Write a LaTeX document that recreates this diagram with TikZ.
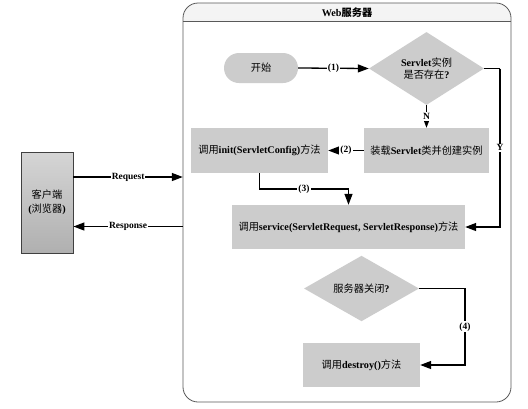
\documentclass[tikz,border=0pt]{standalone}
\usepackage{fontspec}
\setmainfont{Liberation Serif}
\newfontfamily\cjkfont{Noto Sans CJK SC}
\newcommand\zhtxt[1]{{\cjkfont\mdseries #1}}
\usetikzlibrary{arrows.meta,shapes.geometric,calc}
\tikzset{
  box/.style={fill=gray!40, draw=none, inner sep=0pt, font=\fontsize{10.2}{12.5}\selectfont\bfseries, align=center},
  dia/.style={diamond, fill=gray!40, draw=none, inner sep=0pt, font=\fontsize{10.2}{12.5}\selectfont\bfseries, align=center},
  arr/.style={-{Triangle[length=11pt,width=8pt]}, line width=1.3pt},
  ln/.style={line width=1.3pt},
  lbl/.style={fill=white, inner sep=1pt, font=\fontsize{9.5}{10}\selectfont\bfseries}
}
\begin{document}
\begin{tikzpicture}[x=1pt,y=-1pt]
\fill[white] (0,0) rectangle (528,408);
\useasboundingbox (0,0) rectangle (528,408);
% container
\node[draw=none, minimum width=328pt, minimum height=399pt, inner sep=0pt] (web) at (347,202.5) {};
\begin{scope}
  \clip (183,2) rectangle (511,21);
  \shade[top color=gray!8, bottom color=gray!35, rounded corners=15pt] (183,3) rectangle (511,402);
\end{scope}
\draw[gray!70!black, line width=0.6pt] (183,21) -- (511,21);
\draw[gray!70!black, line width=0.8pt, rounded corners=15pt] (183,3) rectangle (511,402);
\node[font=\fontsize{10.2}{11}\selectfont\bfseries] (title) at (347,12.5) {Web{\cjkfont 服务器}};
% nodes
\node[box, rounded corners=15pt, minimum width=74pt, minimum height=30pt] (start) at (261,68) {\zhtxt{开始}};
\node[dia, minimum width=115pt, minimum height=47pt] (d1) at (426.5,68.5) {Servlet\zhtxt{实例}\\\zhtxt{是否存在}?};
\node[box, minimum width=125pt, minimum height=45pt] (load) at (426.5,150.5) {\zhtxt{装载}Servlet\zhtxt{类并创建实例}};
\node[box, minimum width=137pt, minimum height=45pt] (init) at (259.5,150.5) {\zhtxt{调用}init(ServletConfig)\zhtxt{方法}};
\node[box, minimum width=233pt, minimum height=44pt] (service) at (348.5,227) {\zhtxt{调用}service(ServletRequest, ServletResponse)\zhtxt{方法}};
\node[dia, minimum width=115pt, minimum height=47pt] (d2) at (361.5,288.5) {\zhtxt{服务器关闭}?};
\node[box, minimum width=117pt, minimum height=44pt] (destroy) at (361.5,365) {\zhtxt{调用}destroy()\zhtxt{方法}};
\node[draw=black!75, line width=0.9pt, top color=gray!33, bottom color=gray!62, minimum width=52pt, minimum height=101pt, inner sep=0pt, align=center, font=\fontsize{10.2}{14}\selectfont\bfseries] (client) at (47,202.5) {\zhtxt{客户端}\\(\zhtxt{浏览器})};
% connectors
\draw[arr] (start.east) -- node[lbl]{(1)} (d1.west);
\draw[arr] (d1.south) -- node[lbl]{N} (load.north);
\coordinate (y1) at (500,68.5);
\coordinate (y2) at (500,227);
\draw[ln] (d1.east) -- (y1);
\draw[arr] (y1) -- node[lbl]{Y} (y2) -- (service.east);
\draw[arr] (load.west) -- node[lbl]{(2)} (init.east);
\coordinate (c3) at (348.5,189);
\draw[arr] (init.south) |- node[lbl, pos=0.75]{(3)} (c3) -- (service.north);
\coordinate (c4a) at (465,288.5);
\coordinate (c4b) at (465,365);
\draw[arr] (d2.east) -- (c4a) -- node[lbl]{(4)} (c4b) -- (destroy.east);
\draw[arr] (client.east |- 0,177) -- node[lbl]{Request} (web.west |- 0,177);
\draw[arr] (web.west |- 0,226.5) -- node[lbl]{Response} (client.east |- 0,226.5);
\end{tikzpicture}
\end{document}
